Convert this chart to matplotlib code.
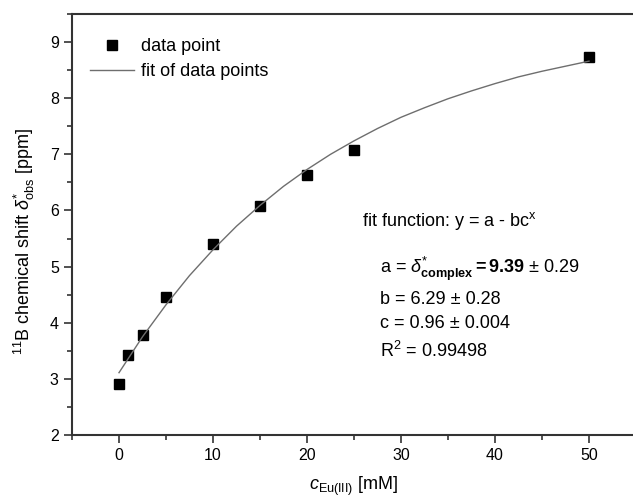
import matplotlib
matplotlib.use('Agg')
import matplotlib.pyplot as plt
from matplotlib.ticker import MultipleLocator

# Data
conc = [0, 1, 2.5, 5, 10, 15, 20, 25, 50]
shift = [2.91, 3.42, 3.79, 4.45, 5.40, 6.08, 6.64, 7.08, 8.73]

# fit curve
fit_x = [0, 2.5, 5, 7.5, 10, 12.5, 15, 17.5, 20, 22.5, 25, 27.5, 30, 32.5,
         35, 37.5, 40, 42.5, 45, 47.5, 50]
fit_y = [3.11, 3.75, 4.32, 4.84, 5.30, 5.72, 6.09, 6.43, 6.73, 7.00, 7.24,
         7.46, 7.66, 7.83, 7.99, 8.13, 8.26, 8.38, 8.48, 8.57, 8.66]

fit_text = 'fit function: y = a - bc$^{\\mathrm{x}}$'
param_text = [r'a = $\delta^{*}_{\mathbf{complex}}$$\mathbf{= 9.39}$ ± 0.29',
              'b = 6.29 ± 0.28',
              'c = 0.96 ± 0.004',
              r'R$^{2}$ = 0.99498']

plt.rcParams['font.family'] = 'Liberation Sans'
plt.rcParams['mathtext.fontset'] = 'custom'
plt.rcParams['mathtext.rm'] = 'Liberation Sans'
plt.rcParams['mathtext.it'] = 'Liberation Sans:italic'
plt.rcParams['mathtext.bf'] = 'Liberation Sans:bold'
plt.rcParams['font.size'] = 12

fig = plt.figure(figsize=(6.33, 4.97), dpi=100)
ax = fig.add_axes([72/633, 62/497, 564/633, 421/497])

ax.plot(conc, shift, 's', color='black', markersize=7, label='data point')
ax.plot(fit_x, fit_y, '-', color='#6e6e6e', lw=1.0, label='fit of data points')

ax.set_xlim(-5, 55)
ax.set_ylim(2, 9.5)
ax.xaxis.set_major_locator(MultipleLocator(10))
ax.xaxis.set_minor_locator(MultipleLocator(5))
ax.yaxis.set_major_locator(MultipleLocator(1))
ax.yaxis.set_minor_locator(MultipleLocator(0.5))
ax.tick_params(which='major', direction='out', length=6, width=1.2, labelsize=11.5, color='#333333')
ax.tick_params(which='minor', direction='out', length=3.5, width=1.2, color='#333333')
ax.spines['right'].set_visible(False)
for s in ['left', 'bottom', 'top']:
    ax.spines[s].set_linewidth(1.5)
    ax.spines[s].set_color('#333333')

ax.set_xlabel(r'$c_{\mathrm{Eu(III)}}$ [mM]', fontsize=13, labelpad=8)
ax.set_ylabel(r'$^{11}$B chemical shift $\delta^{*}_{\mathrm{obs}}$ [ppm]', fontsize=13)
ax.yaxis.set_label_coords(-0.062, 0.46)

legend = ax.legend(loc='upper left', bbox_to_anchor=(0.032, 0.943), frameon=False,
                   fontsize=13, handlelength=2.45, handletextpad=0.35,
                   labelspacing=0.45, borderaxespad=0, borderpad=0)

ax.text(0.514, 0.4964, fit_text, transform=ax.transAxes, fontsize=13, va='baseline')
ys = [0.384, 0.311, 0.253, 0.186]
for t, yy in zip(param_text, ys):
    ax.text(0.546, yy, t, transform=ax.transAxes, fontsize=13, va='baseline')

fig.savefig('out.png', dpi=100)
